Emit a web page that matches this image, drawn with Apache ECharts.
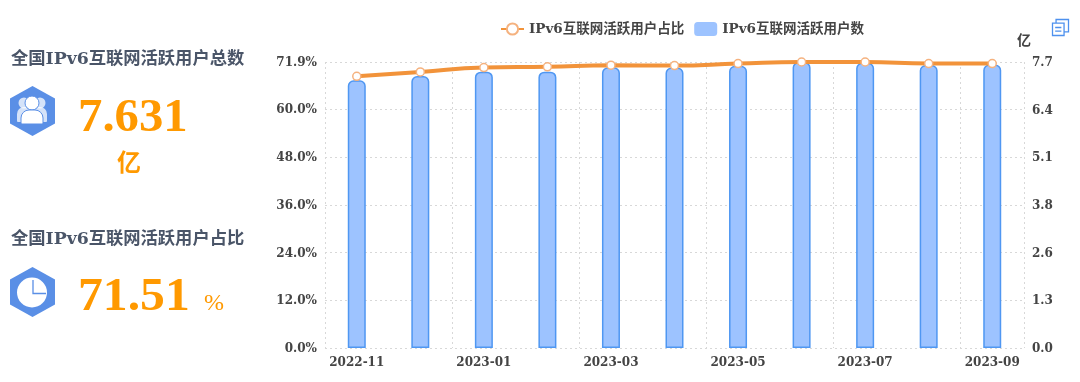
<!DOCTYPE html>
<html><head><meta charset="utf-8">
<style>html,body{margin:0;padding:0;background:#fff}#c{width:1080px;height:382px}</style>
<script src="https://cdn.jsdelivr.net/npm/echarts@6/dist/echarts.min.js"></script>
</head><body><div id="c"></div>
<script>
const categories = ['2022-11','2022-12','2023-01','2023-02','2023-03','2023-04','2023-05','2023-06','2023-07','2023-08','2023-09'];
const shareValues = [68.3,69.4,70.5,70.7,71.1,71.0,71.5,71.9,71.9,71.5,71.51];
const userValues = [7.21,7.32,7.44,7.44,7.56,7.55,7.60,7.70,7.68,7.62,7.631];
const shareName = 'IPv6互联网活跃用户占比';
const userName = 'IPv6互联网活跃用户数';
const totalTitle = '全国IPv6互联网活跃用户总数';
const shareTitle = '全国IPv6互联网活跃用户占比';
const totalText = '7.631';
const pctText = '71.51';
const serif = '"DejaVu Serif","Noto Sans CJK SC",serif';
const big = '"Liberation Serif","Noto Sans CJK SC",serif';
const ink = '#444';
const blue = '#5A8FE6';
const grid = {type:[2,3],color:'#d8d8d8',width:1};
const chart = echarts.init(document.getElementById('c'));
function txt(x,y,text,font,fill,sx){return {type:'text',x,y,scaleX:sx||1,style:{text,font,fill,textVerticalAlign:'middle'}};}
function hex(cy){return {type:'polygon',shape:{points:[[32.5,cy-25],[55,cy-12.5],[55,cy+12.5],[32.5,cy+25],[10,cy+12.5],[10,cy-12.5]]},style:{fill:blue}};}
chart.setOption({
  animation:false,
  textStyle:{fontFamily:serif},
  legend:{top:17,left:495,itemWidth:23,itemHeight:14,itemGap:10,
    textStyle:{color:ink,fontSize:13.5,fontWeight:'bold',fontFamily:serif},
    data:[{name:shareName},{name:userName,itemStyle:{borderWidth:0}}]},
  toolbox:{right:-6,top:2,itemSize:16,
    feature:{myView:{show:true,title:'数据视图',
      icon:'path://M1 5 H14 V19 H1 Z M4 10 H11 M4 14 H11 M5 5 V1 H19 V15 H14',
      onclick:function(){}}},
    iconStyle:{borderColor:'#4e91ee',borderWidth:1.3,color:'none'}},
  grid:{left:325,right:56,top:62,bottom:34},
  xAxis:{type:'category',data:categories,
    axisLine:{show:false},axisTick:{show:false},
    axisLabel:{interval:1,color:ink,fontSize:12,fontWeight:'bold',fontFamily:serif,margin:9},
    splitLine:{show:true,interval:1,lineStyle:grid}},
  yAxis:[
    {type:'value',min:0,max:71.9,interval:12,
     axisLine:{show:false},axisTick:{show:false},
     axisLabel:{color:ink,fontSize:12,fontWeight:'bold',fontFamily:serif,lineHeight:12,verticalAlign:'top',padding:[-5,0,0,0],formatter:v=>v.toFixed(1)+'%'},
     splitLine:{show:true,lineStyle:grid}},
    {type:'value',min:0,max:7.7,interval:1.2833,name:'亿',nameGap:14,
     nameTextStyle:{color:ink,fontSize:14,fontWeight:'bold',fontFamily:serif},
     axisLine:{show:false},axisTick:{show:false},
     axisLabel:{color:ink,fontSize:12,fontWeight:'bold',fontFamily:serif,lineHeight:12,verticalAlign:'top',padding:[-5,0,0,0],formatter:v=>(Math.round(v*10-0.01)/10).toFixed(1)},
     splitLine:{show:false}}
  ],
  series:[
    {name:shareName,type:'line',yAxisIndex:0,data:shareValues,smooth:true,z:5,clip:false,
     symbol:'circle',symbolSize:8,showAllSymbol:true,
     lineStyle:{color:'#F2933A',width:4},
     itemStyle:{color:'#fff',borderColor:'#F5B27F',borderWidth:1.5}},
    {name:userName,type:'bar',yAxisIndex:1,data:userValues,barWidth:18,z:2,
     itemStyle:{color:'#9DC3FF',borderColor:'#4F97F2',borderWidth:1.5,borderRadius:[5,5,0,0]}}
  ],
  graphic:{elements:[
    txt(11,60,totalTitle,'bold 17.3px '+serif,'#4a5568'),
    txt(11,240,shareTitle,'bold 17.3px '+serif,'#4a5568'),
    txt(78,119,totalText,'bold 46px '+big,'#FF9900',1.06),
    txt(117,162,'亿','bold 24px "Noto Sans CJK SC"','#FF9900'),
    txt(78,298,pctText,'bold 46px '+big,'#FF9900',1.08),
    txt(204,304,'%','24px '+big,'#FF9900'),
    hex(111),hex(292),
    {type:'circle',shape:{cx:24,cy:103,r:5.5},style:{fill:'#fff',opacity:.75}},
    {type:'circle',shape:{cx:40,cy:103,r:5.5},style:{fill:'#fff',opacity:.75}},
    {type:'rect',shape:{x:17,y:107,width:30,height:15,r:[7,7,1,1]},style:{fill:'#fff',opacity:.75}},
    {type:'circle',shape:{cx:32,cy:103,r:7},style:{fill:'#fff',stroke:blue,lineWidth:1}},
    {type:'rect',shape:{x:21,y:110,width:22,height:14,r:[8,8,1,1]},style:{fill:'#fff',stroke:blue,lineWidth:1}},
    {type:'circle',shape:{cx:32,cy:292.5,r:15},style:{fill:'#fff'}},
    {type:'polyline',shape:{points:[[33,280],[33,293.5],[46,293.5]]},style:{fill:'none',stroke:blue,lineWidth:1.3}}
  ]}
});
</script></body></html>
